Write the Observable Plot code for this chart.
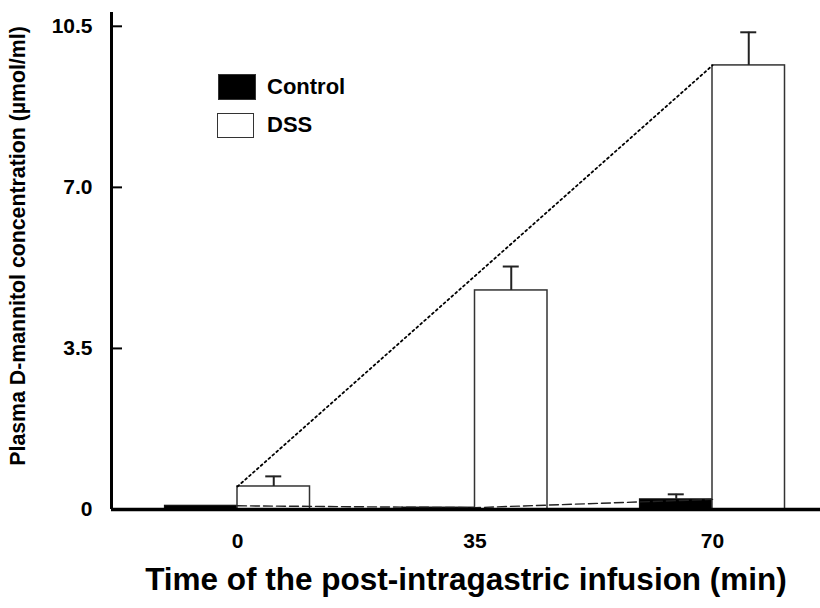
<!DOCTYPE html>
<html>
<head>
<meta charset="utf-8">
<script src="https://cdn.jsdelivr.net/npm/d3@7"></script>
<script src="https://cdn.jsdelivr.net/npm/@observablehq/plot@0.6"></script>
<style>
  html, body { margin: 0; padding: 0; background: #fff; }
  #wrap { position: relative; width: 820px; height: 608px; font-family: "Liberation Sans", Arial, sans-serif; }
  .leg { position: absolute; font-weight: bold; font-size: 22px; color: #000; }
  .box { position: absolute; box-sizing: border-box; border: 1.5px solid #333; }
</style>
</head>
<body>
<div id="wrap"></div>
<script>
// ---- data ----
const times = [0, 35, 70];
const timeLabels = ["0", "35", "70"];
const controlMean = [0.08, 0.04, 0.22];
const controlErr = [0, 0, 0.11];
const dssMean = [0.50, 4.76, 9.65];
const dssErr = [0.22, 0.52, 0.72];
const yTicks = [0, 3.5, 7.0, 10.5];
const yTickLabels = ["0", "3.5", "7.0", "10.5"];
const seriesNames = ["Control", "DSS"];
const xTitle = "Time of the post-intragastric infusion (min)";
const yTitle = "Plasma D-mannitol concentration (\u00b5mol/ml)";

// ---- layout ----
const W = 820, H = 608;
const mL = 111, mR = 0, mT = 12, mB = 99;
const pxPerMin = 237.5 / 35;
const xMin = -(237 - mL) / pxPerMin;
const xMax = xMin + (W - mL - mR) / pxPerMin;
const bw = 72.5 / pxPerMin;      // bar width in minutes
const cap = 8 / pxPerMin;        // error cap half-width in minutes

const control = times.map((t, i) => ({t, v: controlMean[i], e: controlErr[i]}));
const dss = times.map((t, i) => ({t, v: dssMean[i], e: dssErr[i]}));
const dssLine = dss.filter(d => d.t !== 35);

const font = "Liberation Sans, Arial, sans-serif";

const chart = Plot.plot({
  width: W, height: H,
  marginLeft: mL, marginRight: mR, marginTop: mT, marginBottom: mB,
  style: {fontFamily: font, background: "#fff", color: "#000"},
  x: {type: "linear", domain: [xMin, xMax], axis: null},
  y: {type: "linear", domain: [0, 10.8], axis: null},
  marks: [
    // bars
    Plot.rectY(control, {x1: d => d.t - bw, x2: d => d.t, y: "v", fill: "#000", stroke: "#111", strokeWidth: 1.2}),
    Plot.rectY(dss, {x1: d => d.t, x2: d => d.t + bw, y: "v", fill: "#fff", stroke: "#333", strokeWidth: 1.5}),
    // error bars
    Plot.ruleX(dss, {x: d => d.t + bw / 2, y1: "v", y2: d => d.v + d.e, stroke: "#222", strokeWidth: 2}),
    Plot.ruleY(dss, {x1: d => d.t + bw / 2 - cap, x2: d => d.t + bw / 2 + cap, y: d => d.v + d.e, stroke: "#222", strokeWidth: 2}),
    Plot.ruleX(control.filter(d => d.e > 0), {x: d => d.t - bw / 2, y1: "v", y2: d => d.v + d.e, stroke: "#222", strokeWidth: 2}),
    Plot.ruleY(control.filter(d => d.e > 0), {x1: d => d.t - bw / 2 - cap, x2: d => d.t - bw / 2 + cap, y: d => d.v + d.e, stroke: "#222", strokeWidth: 2}),
    // trend lines
    Plot.line(dssLine, {x: "t", y: "v", stroke: "#000", strokeWidth: 1.8, strokeDasharray: "2,3.2"}),
    Plot.line(control, {x: "t", y: "v", stroke: "#222", strokeWidth: 1.4, strokeDasharray: "9,4"}),
    // axes lines
    Plot.ruleY([0], {stroke: "#000", strokeWidth: 3.3}),
    Plot.ruleX([xMin], {stroke: "#000", strokeWidth: 3}),
    // y ticks (inward)
    Plot.ruleY(yTicks.slice(1), {y: d => d, insetRight: W - mL - mR - 11, stroke: "#000", strokeWidth: 2}),
    Plot.axisY({ticks: yTicks, tickFormat: d => yTickLabels[yTicks.indexOf(d)], tickSize: 0, tickPadding: 19,
                fontSize: 21, fontWeight: "bold", label: null}),
    Plot.axisX({ticks: times, tickFormat: d => timeLabels[times.indexOf(d)], tickSize: 0, tickPadding: 24,
                fontSize: 21, fontWeight: "bold", label: null}),
    // titles
    Plot.text([xTitle], {frameAnchor: "bottom", dy: 70, fontSize: 31.5, fontWeight: "bold", lineAnchor: "middle", textAnchor: "middle"}),
    Plot.text([yTitle], {frameAnchor: "left", dx: -93, dy: -15, rotate: -90, fontSize: 21.3, fontWeight: "bold", lineAnchor: "middle", textAnchor: "middle"})
  ]
});

const wrap = document.getElementById("wrap");
wrap.appendChild(chart);

// legend overlay
const legendItems = [
  {name: seriesNames[0], fill: "#000", box: [218, 74, 38, 26], ty: 87},
  {name: seriesNames[1], fill: "#fff", box: [217, 113, 37, 25], ty: 125}
];
for (const it of legendItems) {
  const b = document.createElement("div");
  b.className = "box";
  Object.assign(b.style, {left: it.box[0] + "px", top: it.box[1] + "px", width: it.box[2] + "px", height: it.box[3] + "px", background: it.fill});
  wrap.appendChild(b);
  const t = document.createElement("div");
  t.className = "leg";
  t.textContent = it.name;
  Object.assign(t.style, {left: "267px", top: (it.ty - 13) + "px", lineHeight: "26px"});
  wrap.appendChild(t);
}
</script>
</body>
</html>
